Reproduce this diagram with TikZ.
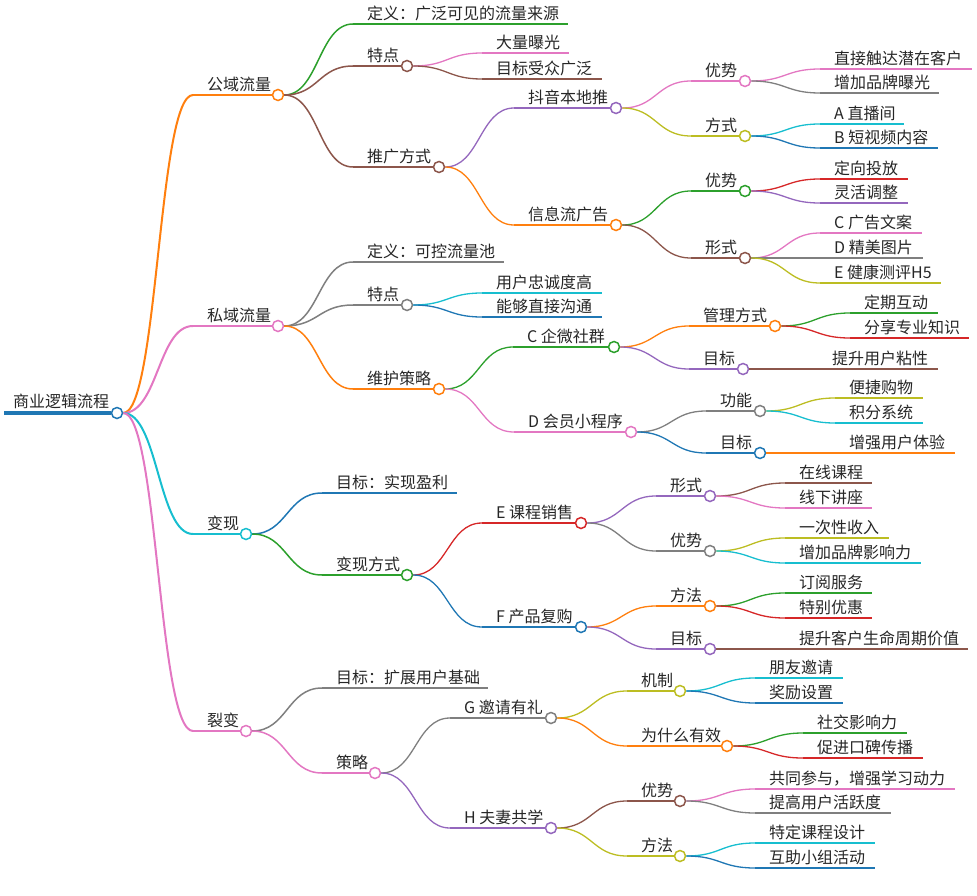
\documentclass[tikz,border=0pt]{standalone}
\usepackage{fontspec}
\setmainfont{Noto Sans CJK SC}
\usetikzlibrary{calc}
\definecolor{cB}{HTML}{1F77B4}
\definecolor{cO}{HTML}{FF7F0E}
\definecolor{cG}{HTML}{2CA02C}
\definecolor{cR}{HTML}{D62728}
\definecolor{cPu}{HTML}{9467BD}
\definecolor{cBr}{HTML}{8C564B}
\definecolor{cP}{HTML}{E377C2}
\definecolor{cGr}{HTML}{7F7F7F}
\definecolor{cOl}{HTML}{BCBD22}
\definecolor{cC}{HTML}{17BECF}
\tikzset{
  txt/.style={anchor=base west, inner sep=0pt, font=\fontsize{16}{18}\selectfont, text=black!85},
  dot/.style={circle, fill=white, minimum size=11pt, inner sep=0pt, line width=1.5pt},
}
% internal node: [width]{parent}{name}{x0}{y}{xc}{text}{color}
\newcommand\inode[8][1.3pt]{%
  \coordinate (#3-s) at (#4,#5);
  \node[dot, draw=#8] (#3) at (#6,#5) {};
  \draw[#8, line width=#1] (#3-s) -- (#3.west);
  \draw[#8, line width=#1] let \p1=(#2.east), \p2=(#3-s) in
    (\p1) .. controls ({0.5*\x1+0.5*\x2},\y1) and ({0.5*\x1+0.5*\x2},\y2) .. (\p2);
  \node[txt] (#3-t) at ({#4+14},{#5-4.5}) {#7};
}
% leaf node: [width]{parent}{name}{x0}{y}{x1}{text}{color}
\newcommand\lnode[8][1.3pt]{%
  \coordinate (#3-s) at (#4,#5);
  \coordinate (#3-e) at (#6,#5);
  \draw[#8, line width=#1] (#3-s) -- (#3-e);
  \draw[#8, line width=#1] let \p1=(#2.east), \p2=(#3-s) in
    (\p1) .. controls ({0.5*\x1+0.5*\x2},\y1) and ({0.5*\x1+0.5*\x2},\y2) .. (\p2);
  \node[txt] (#3) at ({#4+14},{#5-4.5}) {#7};
}
\begin{document}
\begin{tikzpicture}[x=1pt,y=-1pt]
\useasboundingbox (0,0) rectangle (977,896);
% root
\coordinate (root-s) at (4,413);
\node[dot, draw=cB] (root) at (117,413) {};
\draw[cB, line width=4pt] (root-s) -- (root.west);
\node[txt] (root-t) at (13,407.5) {商业逻辑流程};

% level 1
\inode[2pt]{root}{gy}{193}{95}{278}{公域流量}{cO}
\inode[2pt]{root}{sy}{193}{326}{278}{私域流量}{cP}
\inode[2pt]{root}{bx}{193}{534}{246}{变现}{cC}
\inode[2pt]{root}{lb}{193}{731}{246}{裂变}{cP}

% 公域流量
\lnode[1.5pt]{gy}{gy1}{353}{24}{568}{定义：广泛可见的流量来源}{cG}
\inode[1.5pt]{gy}{gy2}{353}{66}{407}{特点}{cBr}
\lnode{gy2}{gy21}{482}{53}{569}{大量曝光}{cP}
\lnode{gy2}{gy22}{482}{79}{602}{目标受众广泛}{cBr}
\inode[1.5pt]{gy}{gy3}{353}{167}{439}{推广方式}{cBr}
\inode{gy3}{dy}{514}{108}{616}{抖音本地推}{cPu}
\inode{dy}{dy1}{691}{81}{745}{优势}{cP}
\lnode{dy1}{dy11}{820}{69}{972}{直接触达潜在客户}{cP}
\lnode{dy1}{dy12}{820}{93}{939}{增加品牌曝光}{cGr}
\inode{dy}{dy2}{691}{136}{745}{方式}{cOl}
\lnode{dy2}{dy21}{820}{124}{904}{A 直播间}{cC}
\lnode{dy2}{dy22}{820}{148}{938}{B 短视频内容}{cB}
\inode{gy3}{xx}{514}{225}{616}{信息流广告}{cO}
\inode{xx}{xx1}{691}{191}{745}{优势}{cG}
\lnode{xx1}{xx11}{820}{179}{908}{定向投放}{cR}
\lnode{xx1}{xx12}{820}{203}{908}{灵活调整}{cPu}
\inode{xx}{xx2}{691}{258}{745}{形式}{cBr}
\lnode{xx2}{xx21}{820}{233}{922}{C 广告文案}{cP}
\lnode{xx2}{xx22}{820}{258}{923}{D 精美图片}{cGr}
\lnode{xx2}{xx23}{820}{283}{941}{E 健康测评H5}{cOl}

% 私域流量
\lnode[1.5pt]{sy}{sy1}{353}{262}{504}{定义：可控流量池}{cGr}
\inode[1.5pt]{sy}{sy2}{353}{305}{407}{特点}{cGr}
\lnode{sy2}{sy21}{482}{293}{602}{用户忠诚度高}{cC}
\lnode{sy2}{sy22}{482}{317}{602}{能够直接沟通}{cB}
\inode[1.5pt]{sy}{sy3}{353}{389}{439}{维护策略}{cO}
\inode{sy3}{qw}{513}{347}{614}{C 企微社群}{cG}
\inode{qw}{qw1}{689}{326}{775}{管理方式}{cO}
\lnode{qw1}{qw11}{850}{313}{938}{定期互动}{cG}
\lnode{qw1}{qw12}{850}{338}{969}{分享专业知识}{cR}
\inode{qw}{qw2}{689}{369}{743}{目标}{cPu}
\lnode{qw2}{qw21}{818}{369}{938}{提升用户粘性}{cBr}
\inode{sy3}{hy}{514}{432}{631}{D 会员小程序}{cP}
\inode{hy}{hy1}{706}{411}{760}{功能}{cGr}
\lnode{hy1}{hy11}{835}{398}{923}{便捷购物}{cOl}
\lnode{hy1}{hy12}{835}{423}{923}{积分系统}{cC}
\inode{hy}{hy2}{706}{453}{760}{目标}{cB}
\lnode{hy2}{hy21}{835}{453}{955}{增强用户体验}{cO}

% 变现
\lnode[1.5pt]{bx}{bx1}{322}{493}{457}{目标：实现盈利}{cB}
\inode[1.5pt]{bx}{bx2}{322}{575}{407}{变现方式}{cG}
\inode{bx2}{kc}{482}{523}{581}{E 课程销售}{cR}
\inode{kc}{kc1}{656}{496}{710}{形式}{cPu}
\lnode{kc1}{kc11}{785}{483}{872}{在线课程}{cBr}
\lnode{kc1}{kc12}{785}{508}{872}{线下讲座}{cP}
\inode{kc}{kc2}{656}{551}{710}{优势}{cGr}
\lnode{kc2}{kc21}{785}{538}{889}{一次性收入}{cOl}
\lnode{kc2}{kc22}{785}{563}{921}{增加品牌影响力}{cC}
\inode{bx2}{cp}{482}{627}{581}{F 产品复购}{cB}
\inode{cp}{cp1}{656}{606}{710}{方法}{cO}
\lnode{cp1}{cp11}{785}{593}{872}{订阅服务}{cG}
\lnode{cp1}{cp12}{785}{618}{872}{特别优惠}{cR}
\inode{cp}{cp2}{656}{649}{710}{目标}{cPu}
\lnode{cp2}{cp21}{785}{649}{968}{提升客户生命周期价值}{cBr}

% 裂变
\lnode[1.5pt]{lb}{lb1}{322}{688}{488}{目标：扩展用户基础}{cGr}
\inode[1.5pt]{lb}{lb2}{322}{773}{375}{策略}{cP}
\inode{lb2}{yq}{450}{718}{551}{G 邀请有礼}{cGr}
\inode{yq}{yq1}{627}{691}{680}{机制}{cOl}
\lnode{yq1}{yq11}{755}{678}{843}{朋友邀请}{cC}
\lnode{yq1}{yq12}{755}{703}{843}{奖励设置}{cB}
\inode{yq}{yq2}{627}{746}{727}{为什么有效}{cO}
\lnode{yq2}{yq21}{803}{733}{907}{社交影响力}{cG}
\lnode{yq2}{yq22}{803}{758}{923}{促进口碑传播}{cR}
\inode{lb2}{fq}{450}{828}{551}{H 夫妻共学}{cPu}
\inode{fq}{fq1}{627}{801}{680}{优势}{cBr}
\lnode{fq1}{fq11}{755}{789}{955}{共同参与，增强学习动力}{cP}
\lnode{fq1}{fq12}{755}{813}{891}{提高用户活跃度}{cGr}
\inode{fq}{fq2}{627}{856}{680}{方法}{cOl}
\lnode{fq2}{fq21}{755}{843}{875}{特定课程设计}{cC}
\lnode{fq2}{fq22}{755}{868}{875}{互助小组活动}{cB}
\end{tikzpicture}
\end{document}
